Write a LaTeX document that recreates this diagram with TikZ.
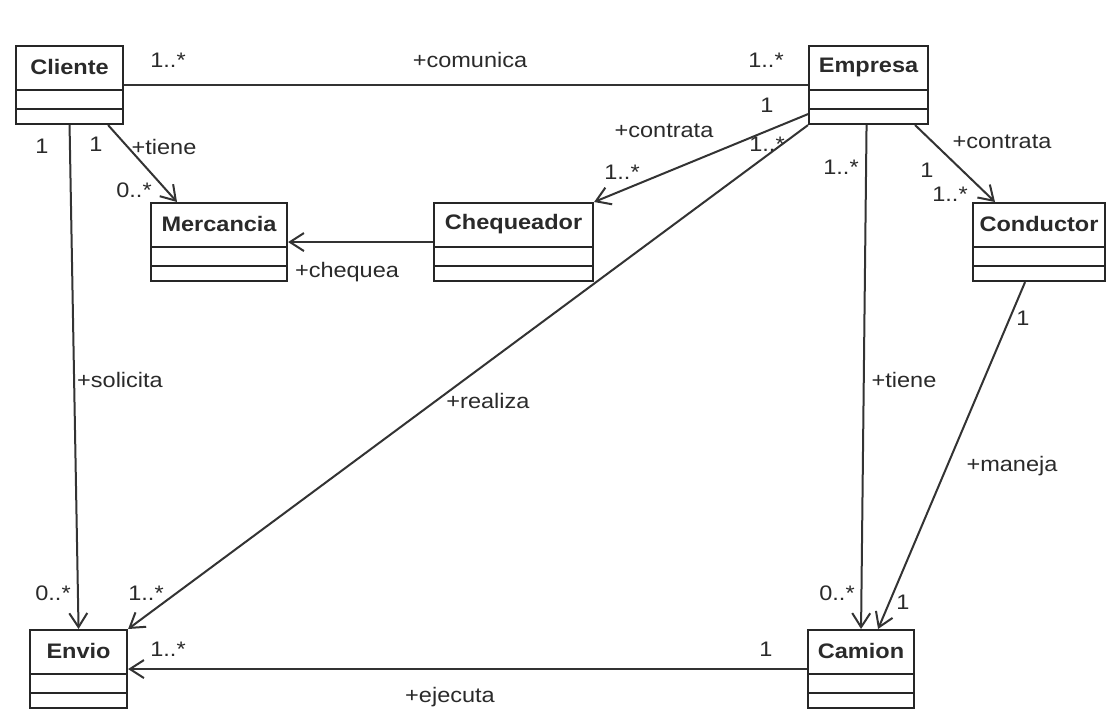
\documentclass[tikz,border=0pt]{standalone}
\usepackage{fontspec}
\setmainfont{Liberation Sans}[FakeStretch=1.12]
\usetikzlibrary{arrows.meta,calc}

\definecolor{inkline}{HTML}{333333}
\definecolor{inktext}{HTML}{2A2A2A}

\tikzset{
  clsbox/.style={draw=black!85, line width=2.1pt, fill=white, inner sep=0pt,
    anchor=north west, minimum height=78pt,
    path picture={
      \draw[black!85, line width=2pt]
        ([yshift=-44pt]path picture bounding box.north west) --
        ([yshift=-44pt]path picture bounding box.north east);
      \draw[black!85, line width=2pt]
        ([yshift=-63pt]path picture bounding box.north west) --
        ([yshift=-63pt]path picture bounding box.north east);
    }},
  clstitle/.style={font=\fontsize{21}{25}\selectfont\bfseries, text=inktext, inner sep=0pt},
  lbl/.style={font=\fontsize{21}{25}\selectfont, text=inktext, inner sep=0pt},
  assoc/.style={draw=inkline, line width=2pt},
  navig/.style={assoc, -{Straight Barb[length=14pt,width=18pt,line width=2pt]}},
}

\begin{document}
\begin{tikzpicture}[x=1pt,y=-1pt]
\useasboundingbox (0,0) rectangle (1107,714);
\fill[white] (0,0) rectangle (1107,714);

% class boxes
\node[clsbox, minimum width=107pt] (cli) at (15,45) {};
\node[clsbox, minimum width=119pt] (emp) at (808,45) {};
\node[clsbox, minimum width=136pt] (mer) at (150,202) {};
\node[clsbox, minimum width=159pt] (chq) at (433,202) {};
\node[clsbox, minimum width=132pt] (con) at (972,202) {};
\node[clsbox, minimum width=97pt]  (env) at (29,629) {};
\node[clsbox, minimum width=106pt] (cam) at (807,629) {};

% class names
\node[clstitle] (cli-t) at ([yshift=-22pt]cli.north) {Cliente};
\node[clstitle] (emp-t) at ([yshift=-22pt]emp.north) {Empresa};
\node[clstitle] (mer-t) at ([yshift=-22pt]mer.north) {Mercancia};
\node[clstitle] (chq-t) at ([yshift=-22pt]chq.north) {Chequeador};
\node[clstitle] (con-t) at ([yshift=-22pt]con.north) {Conductor};
\node[clstitle] (env-t) at ([yshift=-22pt]env.north) {Envio};
\node[clstitle] (cam-t) at ([yshift=-22pt]cam.north) {Camion};

% associations
\draw[assoc] (cli.east) -- (emp.west);
\draw[navig] (cli.south) -- (env.north);
\draw[navig] ($(cli.south east)+(-16,0)$) -- ($(mer.north west)+(27,0)$);
\draw[navig] (chq.west) -- (mer.east);
\draw[navig] ($(emp.south west)+(0,-11)$) -- (chq.north east);
\draw[navig] (emp.south west) -- (env.north east);
\draw[navig] ($(emp.south)+(-2,0)$) -- (cam.north);
\draw[navig] ($(emp.south east)+(-14,0)$) -- ($(con.north west)+(23,0)$);
\draw[navig] ($(con.south)+(-14,0)$) -- ($(cam.north)+(17,0)$);
\draw[navig] (cam.west) -- (env.east);

% role names and multiplicities
\node[lbl] (l1)  at (168,60)  {1..*};
\node[lbl] (l2)  at (470,60)  {+comunica};
\node[lbl] (l3)  at (766,60)  {1..*};
\node[lbl] (l4)  at (42,146)  {1};
\node[lbl] (l5)  at (96,144)  {1};
\node[lbl] (l6)  at (164,147) {+tiene};
\node[lbl] (l7)  at (134,190) {0..*};
\node[lbl] (l8)  at (347,272) {+chequea};
\node[lbl] (l9)  at (664,131) {+contrata};
\node[lbl] (l10) at (622,172) {1..*};
\node[lbl] (l11) at (767,105) {1};
\node[lbl] (l12) at (767,144) {1..*};
\node[lbl] (l13) at (841,167) {1..*};
\node[lbl] (l14) at (1002,142) {+contrata};
\node[lbl] (l15) at (927,170) {1};
\node[lbl] (l16) at (950,194) {1..*};
\node[lbl] (l17) at (1023,318) {1};
\node[lbl] (l18) at (1012,466) {+maneja};
\node[lbl] (l19) at (904,380) {+tiene};
\node[lbl] (l20) at (488,401) {+realiza};
\node[lbl] (l21) at (120,380) {+solicita};
\node[lbl] (l22) at (53,593)  {0..*};
\node[lbl] (l23) at (146,593) {1..*};
\node[lbl] (l24) at (168,649) {1..*};
\node[lbl] (l25) at (837,593) {0..*};
\node[lbl] (l26) at (903,602) {1};
\node[lbl] (l27) at (766,649) {1};
\node[lbl] (l28) at (450,697) {+ejecuta};
\end{tikzpicture}
\end{document}
